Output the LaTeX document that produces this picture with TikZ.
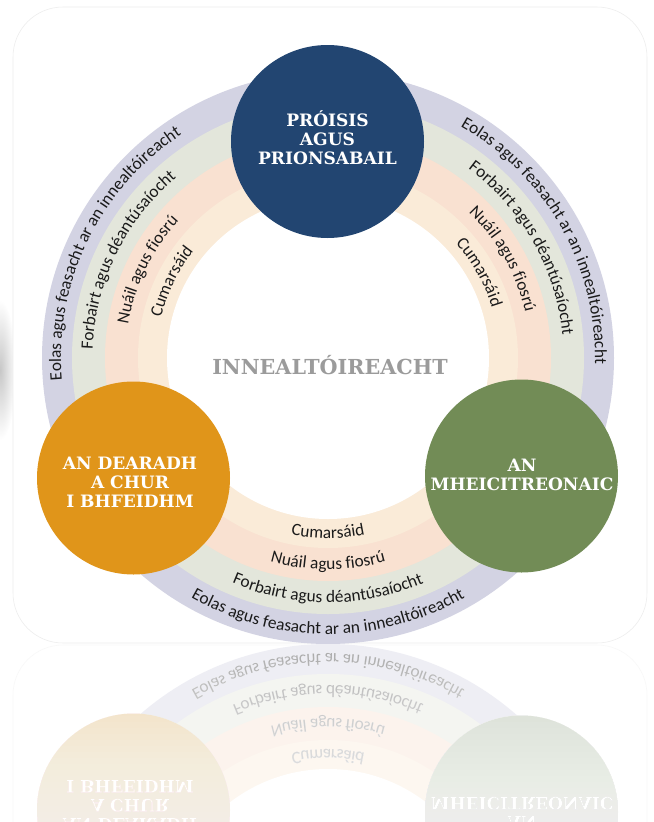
\documentclass[tikz,border=0pt]{standalone}
\usepackage{fontspec}
\usetikzlibrary{decorations.text,calc}
\newfontfamily\ringfont{Carlito}
\newfontfamily\slabfont{DejaVu Serif}
\newcommand\ringfnt{\ringfont\fontsize{13}{15}\selectfont}
\definecolor{cLav}{HTML}{D3D3E3}
\definecolor{cGrn}{HTML}{E3E6DB}
\definecolor{cPch}{HTML}{F9E1D1}
\definecolor{cLgt}{HTML}{FAEBD8}
\definecolor{cBlue}{HTML}{224571}
\definecolor{cOrg}{HTML}{E0951A}
\definecolor{cGreen}{HTML}{728C56}
\definecolor{cGray}{HTML}{9B9B9B}
\definecolor{cEdge}{HTML}{ECECEC}
\definecolor{cTxt}{HTML}{1A1A1A}
\newcommand\arctext[4]{%
  \path[decorate, decoration={text along path, text align=center, text color=cTxt,
        text={|\ringfnt|#4}}]
    ($(C)+(#1:#3)$) arc[start angle=#1, end angle=#2, radius=#3];}
\newcommand\drawdiagram{%
  \draw[cEdge, fill=white, rounded corners=37.5pt] (13,-7) rectangle (647,-643);
  \coordinate (C) at (328,-358);
  \fill[cLav] (C) circle[radius=286];
  \fill[cGrn] (C) circle[radius=256];
  \fill[cPch] (C) circle[radius=223];
  \fill[cLgt] (C) circle[radius=190];
  \fill[white] (C) circle[radius=161];
  % upper left
  \arctext{224}{84}{267}{Eolas agus feasacht ar an innealtóireacht}
  \arctext{224}{84}{235.5}{Forbairt agus déantúsaíocht}
  \arctext{224}{84}{202.5}{Nuáil agus fiosrú}
  \arctext{224}{84}{171.5}{Cumarsáid}
  % upper right
  \arctext{99.5}{-40.5}{267}{Eolas agus feasacht ar an innealtóireacht}
  \arctext{99.5}{-40.5}{235.5}{Forbairt agus déantúsaíocht}
  \arctext{99.5}{-40.5}{202.5}{Nuáil agus fiosrú}
  \arctext{99.5}{-40.5}{171.5}{Cumarsáid}
  % bottom
  \arctext{200}{340}{276}{Eolas agus feasacht ar an innealtóireacht}
  \arctext{200}{340}{244.5}{Forbairt agus déantúsaíocht}
  \arctext{200}{340}{211.5}{Nuáil agus fiosrú}
  \arctext{200}{340}{180.5}{Cumarsáid}
  % circles
  \node[circnode, fill=cBlue] (blue) at (327.5,-141.5) {};
  \node[circnode, fill=cOrg] (orange) at (133.5,-478) {};
  \node[circnode, fill=cGreen] (green) at (521.5,-476) {};
  \node[circlabel] (bluetext) at (327.5,-138) {PRÓISIS\\AGUS\\PRIONSABAIL};
  \node[circlabel] (orangetext) at (130,-482.5) {AN DEARADH\\A CHUR\\I BHFEIDHM};
  \node[circlabel] (greentext) at (522,-475) {AN\\MHEICITREONAIC};
  \node[centerlabel] (eng) at (330,-365) {INNEALTÓIREACHT};
}
\begin{document}
\begin{tikzpicture}[x=0.75pt, y=0.75pt,
  circnode/.style={circle, minimum size=144.75pt, inner sep=0pt},
  circlabel/.style={font=\slabfont\bfseries\fontsize{12.8}{14.3}\selectfont, text=white, align=center, inner sep=0pt},
  centerlabel/.style={font=\slabfont\bfseries\fontsize{15.5}{17}\selectfont, text=cGray, inner sep=0pt}]
  \useasboundingbox (0,0) rectangle (654,-822);
  \fill[white] (0,0) rectangle (654,-822);
  \shade[inner color=black!22, outer color=white] (0,-370) ellipse[x radius=16, y radius=70];
  \drawdiagram
  \begin{scope}
    \clip (0,-644) rectangle (654,-822);
    \begin{scope}[transform canvas={shift={(0,-1288)}, yscale=-1}]
      \drawdiagram
    \end{scope}
    \fill[white, fill opacity=0.62] (0,-644) rectangle (654,-822);
    \foreach \i in {1,...,30} {\fill[white, fill opacity=0.055] (0,{-644-6*\i}) rectangle (654,-822);}
  \end{scope}
\end{tikzpicture}
\end{document}
